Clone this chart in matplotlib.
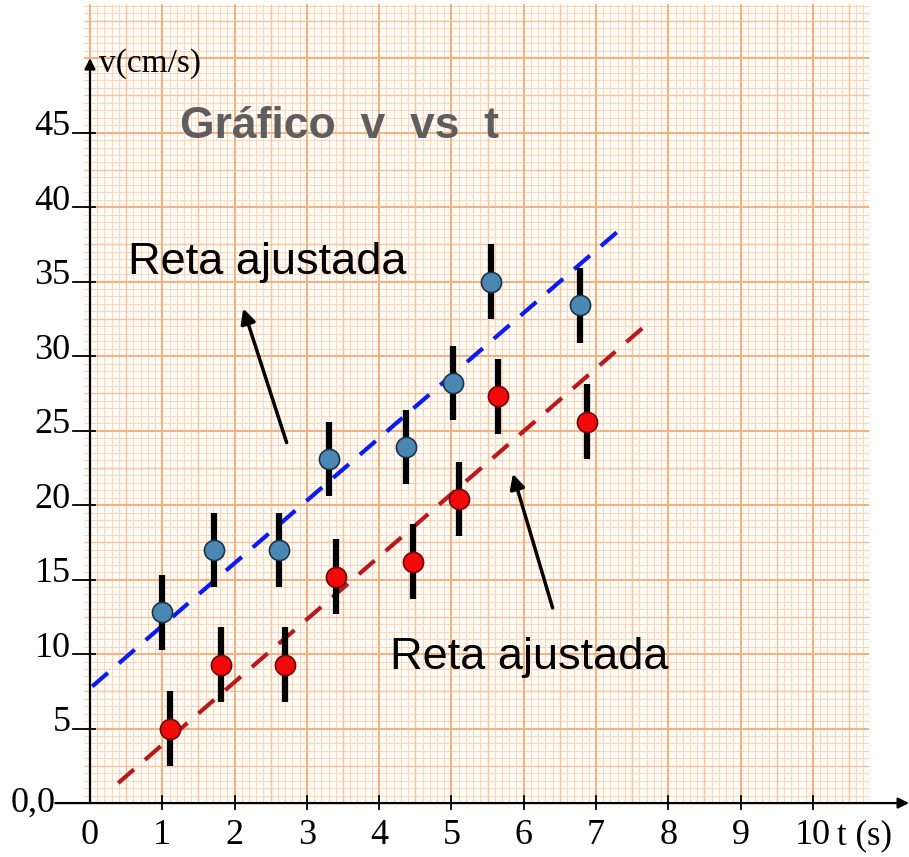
import numpy as np
import matplotlib.pyplot as plt

# dados
t_azul = [1.0, 1.71, 2.61, 3.31, 4.37, 5.02, 5.55, 6.78]
v_azul = [12.8, 17.0, 17.0, 23.1, 23.9, 28.2, 35.0, 33.4]
t_verm = [1.11, 1.81, 2.70, 3.40, 4.47, 5.10, 5.64, 6.87]
v_verm = [5.0, 9.3, 9.3, 15.2, 16.2, 20.4, 27.3, 25.6]
erro = 2.5

# retas ajustadas: v = a + b t
a_azul, b_azul, t_azul_ini, t_azul_fim = 7.7, 4.2, 0.03, 7.37
a_verm, b_verm, t_verm_ini, t_verm_fim = -0.3, 4.21, 0.39, 7.68

xticks = [0, 1, 2, 3, 4, 5, 6, 7, 8, 9, 10]
yticks = [5, 10, 15, 20, 25, 30, 35, 40, 45]

fig = plt.figure(figsize=(9.09, 8.57), dpi=100)
ax = fig.add_axes([0, 0, 1, 1])
ax.set_xlim(-1.245, 11.33)
ax.set_ylim(-3.62, 53.9)
ax.axis('off')

# papel milimetrado
x0, x1, y0, y1 = -0.08, 10.77, 0.0, 53.6
ax.fill_between([x0, x1], y0, y1, color='#fffbf7', zorder=0)
gx = np.arange(0, 10.77, 0.1)
gy = np.arange(0, 53.6, 0.5)
ax.vlines(gx, y0, y1, color='#fbd6b8', lw=0.75, zorder=0.5)
ax.hlines(gy, x0, x1, color='#fbd6b8', lw=0.75, zorder=0.5)
ax.vlines(np.arange(0.5, 10.77, 1), y0, y1, color='#f8c39a', lw=1.0, zorder=0.6)
ax.hlines(np.arange(2.5, 53.6, 5), x0, x1, color='#f8c39a', lw=1.0, zorder=0.6)
ax.vlines(np.arange(0, 10.77, 1), y0, y1, color='#f5b07e', lw=1.4, zorder=0.7)
ax.hlines(np.arange(0, 53.6, 5), x0, x1, color='#f5b07e', lw=1.4, zorder=0.7)

# eixos com setas
ax.annotate('', xy=(0, 50.0), xytext=(0, 0),
            arrowprops=dict(arrowstyle='-|>', color='black', lw=1.6,
                            mutation_scale=16, shrinkA=0, shrinkB=0), zorder=3)
ax.annotate('', xy=(11.33, 0), xytext=(-0.48, 0),
            arrowprops=dict(arrowstyle='-|>', color='black', lw=1.6,
                            mutation_scale=16, shrinkA=0, shrinkB=0), zorder=3)

for v in yticks:
    ax.plot([-0.24, 0.07], [v, v], color='black', lw=1.3, zorder=3)
    ax.text(-0.27, v + 0.4, str(v), ha='right', va='center',
            fontsize=26, family='Liberation Serif')
for t in xticks[1:]:
    ax.plot([t, t], [-0.4, 0.5], color='black', lw=1.3, zorder=3)
for t in xticks:
    ax.text(t, -2.2, str(t), ha='center', va='center',
            fontsize=26, family='Liberation Serif')
ax.text(-0.48, 0, '0,0', ha='right', va='center', fontsize=26, family='Liberation Serif')
ax.text(0.12, 49.6, 'v(cm/s)', ha='left', va='center', fontsize=24, family='Liberation Serif')
ax.text(10.33, -2.2, 't (s)', ha='left', va='center', fontsize=25, family='Liberation Serif')

# retas ajustadas
tt = np.array([t_azul_ini, t_azul_fim])
ax.plot(tt, a_azul + b_azul * tt, color='#0a1cf5', lw=3, ls=(0, (5, 3.5)), zorder=2)
tt = np.array([t_verm_ini, t_verm_fim])
ax.plot(tt, a_verm + b_verm * tt, color='#b8191c', lw=3, ls=(0, (5, 3.5)), zorder=2)

# pontos com barras de erro
ax.errorbar(t_azul, v_azul, yerr=erro, fmt='none', ecolor='black', elinewidth=4.5, capsize=0, zorder=4)
ax.errorbar(t_verm, v_verm, yerr=erro, fmt='none', ecolor='black', elinewidth=4.5, capsize=0, zorder=4)
ax.plot(t_azul, v_azul, 'o', ms=14.5, mfc='#4a87b3', mec='#1d3448', mew=1.2, zorder=5)
ax.plot(t_verm, v_verm, 'o', ms=14.5, mfc='#f20a0a', mec='#6a0a0a', mew=1.2, zorder=5)

# textos
ax.text(1.245, 45.4, 'Gráfico  v  vs  t', ha='left', va='center', fontsize=32,
        fontweight='bold', color='#5e5e5e', family='Liberation Sans')
ax.text(0.53, 36.3, 'Reta ajustada', ha='left', va='center', fontsize=32.5,
        color='black', family='Liberation Sans')
ax.text(4.15, 9.8, 'Reta ajustada', ha='left', va='center', fontsize=32.5,
        color='black', family='Liberation Sans')
ax.annotate('', xy=(2.12, 33.2), xytext=(2.72, 24.2),
            arrowprops=dict(arrowstyle='-|>', color='black', lw=2.5,
                            mutation_scale=22, shrinkA=0, shrinkB=0), zorder=3)
ax.annotate('', xy=(5.85, 22.1), xytext=(6.40, 13.1),
            arrowprops=dict(arrowstyle='-|>', color='black', lw=2.5,
                            mutation_scale=22, shrinkA=0, shrinkB=0), zorder=3)

plt.savefig('out.png', dpi=100)
